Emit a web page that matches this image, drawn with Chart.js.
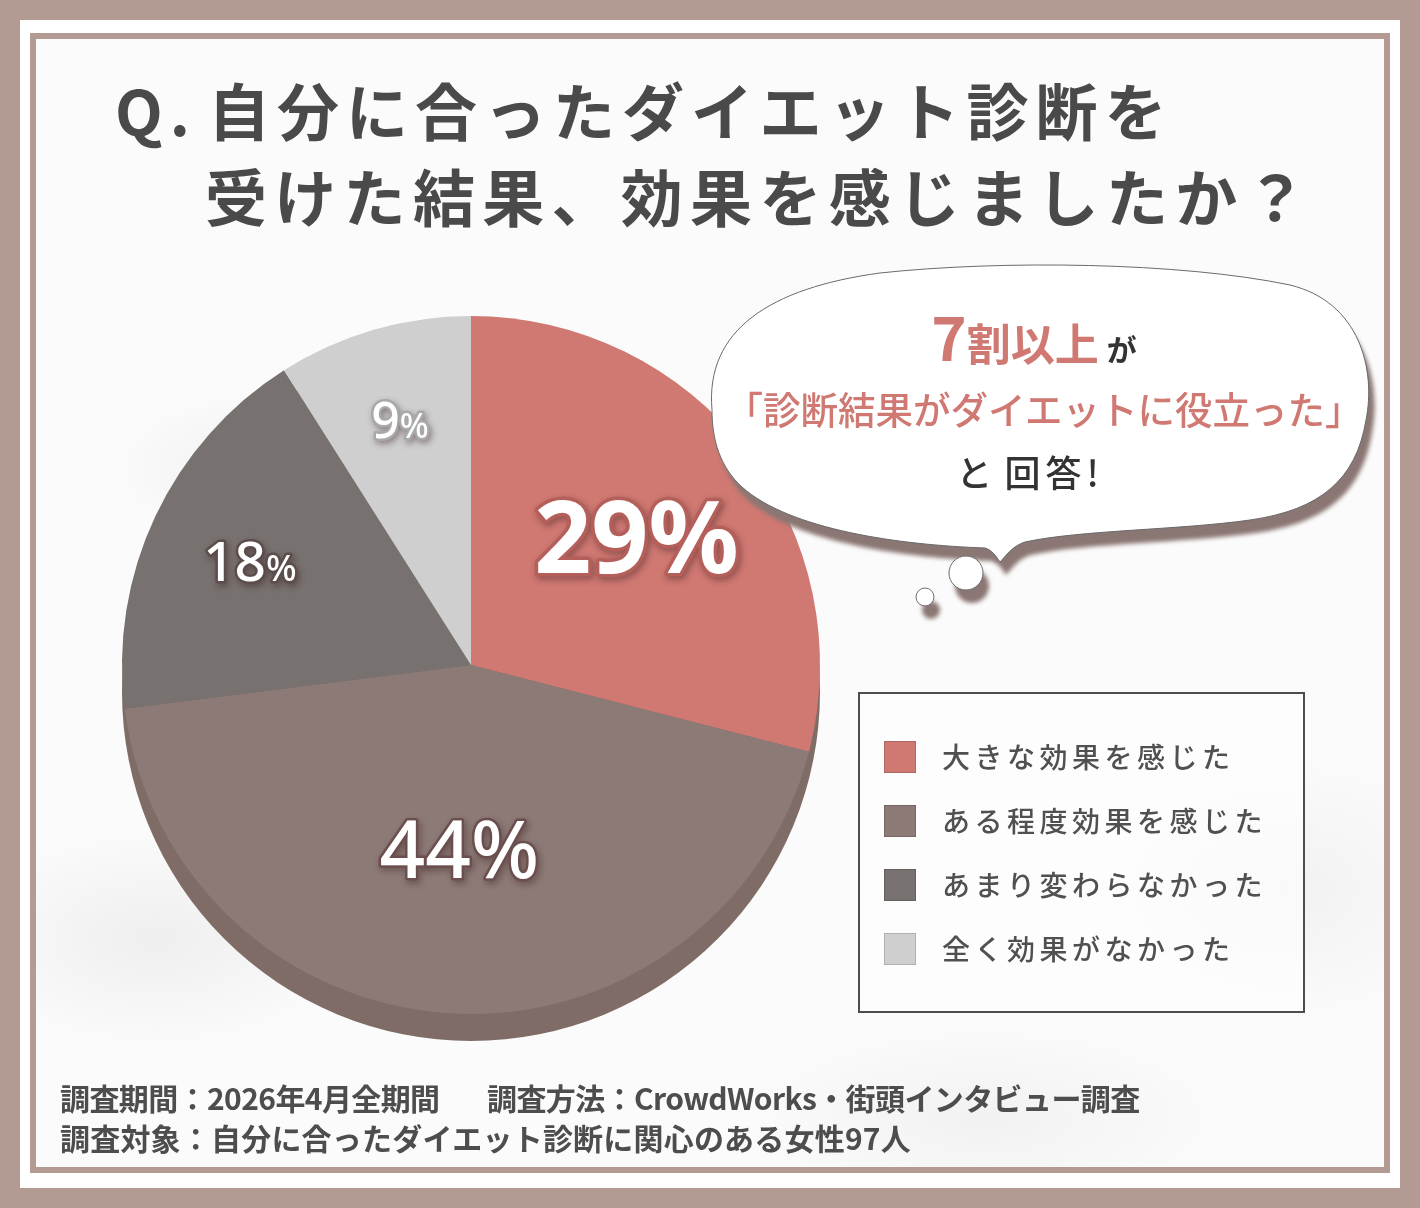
<!DOCTYPE html>
<html lang="ja">
<head>
<meta charset="utf-8">
<script src="https://cdn.jsdelivr.net/npm/chart.js@4.4.1/dist/chart.umd.min.js"></script>
<style>
    html, body { margin: 0; padding: 0; }
    body { width: 1420px; height: 1208px; background: #b39b94; position: relative; overflow: hidden;
           font-family: "Noto Sans CJK JP", "Noto Sans", sans-serif; }
    .paper { position: absolute; left: 20px; top: 20px; width: 1380px; height: 1168px; background: #fff; }
    .frame { position: absolute; left: 30px; top: 33px; width: 1360px; height: 1140px; box-sizing: border-box;
             border: 6px solid #b39b94;
             background:
                radial-gradient(ellipse 260px 120px at 250px 430px, rgba(0,0,0,0.05), rgba(0,0,0,0) 70%),
                radial-gradient(ellipse 300px 160px at 120px 900px, rgba(0,0,0,0.05), rgba(0,0,0,0) 70%),
                radial-gradient(ellipse 360px 140px at 950px 1080px, rgba(0,0,0,0.04), rgba(0,0,0,0) 70%),
                radial-gradient(ellipse 300px 200px at 1250px 850px, rgba(0,0,0,0.04), rgba(0,0,0,0) 70%),
                #fbfbfb; }
    #chart { position: absolute; left: 0; top: 0; }
    svg.bubble { position: absolute; left: 0; top: 0; }
    .title { position: absolute; color: #4a4a4a; font-weight: 700; font-size: 62px; letter-spacing: 7px;
             line-height: 62px; white-space: nowrap; }
    .bub { position: absolute; text-align: center; white-space: nowrap; font-weight: 700; }
    .red { color: #d07872; }
    .legend { position: absolute; left: 858px; top: 692px; width: 447px; height: 321px; box-sizing: border-box;
              border: 2px solid #4d4d4d; background: rgba(255,255,255,0.6); }
    .item { position: absolute; left: 884px; height: 32px; }
    .sw { position: absolute; left: 0; top: 0; width: 30px; height: 30px; border: 1px solid rgba(0,0,0,0.15); }
    .lab { position: absolute; left: 58px; top: -2px; font-size: 28px; line-height: 34px; letter-spacing: 4.5px;
           color: #505050; white-space: nowrap; font-weight: 500; }
    .note { position: absolute; font-size: 30px; font-weight: 700; color: #4d4d4d; line-height: 32px;
            white-space: nowrap; letter-spacing: 0.2px; }
</style>
</head>
<body>
<div class="paper"></div>
<div class="frame"></div>
<canvas id="chart" width="1420" height="1208"></canvas>

<svg class="bubble" width="1420" height="1208" viewBox="0 0 1420 1208">
    <defs>
        <filter id="soft" x="-10%" y="-10%" width="120%" height="130%">
            <feGaussianBlur stdDeviation="2"/>
        </filter>
    </defs>
    <g transform="translate(6,13)" fill="#8a7672" filter="url(#soft)">
        <path d="M 712 410 C 705 330 770 288 880 273 C 1000 260 1180 262 1290 285 C 1360 302 1376 370 1366 420 C 1356 480 1320 510 1250 520 C 1180 530 1080 530 1025 542 C 1012 546 1006 556 1000 562 C 996 556 992 550 985 548 C 900 545 790 530 742 487 C 720 467 712 440 712 410 Z"/>
        <circle cx="966" cy="573" r="17"/>
        <circle cx="925" cy="597" r="9"/>
    </g>
    <path d="M 712 410 C 705 330 770 288 880 273 C 1000 260 1180 262 1290 285 C 1360 302 1376 370 1366 420 C 1356 480 1320 510 1250 520 C 1180 530 1080 530 1025 542 C 1012 546 1006 556 1000 562 C 996 556 992 550 985 548 C 900 545 790 530 742 487 C 720 467 712 440 712 410 Z"
          fill="#ffffff" stroke="#6a6a6a" stroke-width="1"/>
    <circle cx="966" cy="573" r="17" fill="#fff" stroke="#6a6a6a" stroke-width="1"/>
    <circle cx="925" cy="597" r="9" fill="#fff" stroke="#6a6a6a" stroke-width="1"/>
</svg>

<div class="title" style="left:115px; top:78px;">Q.</div>
<div class="title" style="left:208px; top:78px;">自分に合ったダイエット診断を</div>
<div class="title" style="left:205px; top:164px; letter-spacing:7.3px;">受けた結果、効果を感じましたか？</div>

<div class="bub" style="left:834px; width:400px; top:300px; line-height:70px;">
    <span class="red" style="font-size:60px; font-weight:600;">7</span><span class="red" style="font-size:44px;">割以上</span><span style="font-size:30px; color:#333; margin-left:8px;">が</span>
</div>
<div class="bub red" style="left:724px; width:640px; top:385px; font-size:37.5px; line-height:46px; font-weight:500;">「診断結果がダイエットに役立った」</div>
<div class="bub" style="left:930px; width:200px; top:448px; font-size:36px; line-height:46px; color:#333; font-weight:500; letter-spacing:5px;">と&#8202;回答!</div>

<div class="legend"></div>
<div id="legendItems"></div>

<div class="note" style="left:60px; top:1081px; letter-spacing:-0.6px;">調査期間：2026年4月全期間</div>
<div class="note" style="left:487px; top:1081px; letter-spacing:-0.6px;">調査方法：CrowdWorks・街頭インタビュー調査</div>
<div class="note" style="left:60px; top:1121px;">調査対象：自分に合ったダイエット診断に関心のある女性97人</div>

<script>
// Données du graphique
const categories = ['大きな効果を感じた', 'ある程度効果を感じた', 'あまり変わらなかった', '全く効果がなかった'];
const shares = [29, 44, 18, 9];
const sliceColors = ['#d07872', '#8c7a76', '#77716f', '#cfcfcf'];

// Style des étiquettes de pourcentage
const labelRadius = [0.6, 0.53, 0.7, 0.73];
const numSize = [100, 80, 55, 50];
const pctSize = [100, 80, 36, 34];
const labelWeight = [700, 500, 500, 500];
const outlineColors = ['#b45f59', '#6b4e4e', '#5a4d4b', '#a9a9a9'];

// Légende HTML construite à partir des catégories
const legendItems = document.getElementById('legendItems');
categories.forEach((cat, i) => {
    const item = document.createElement('div');
    item.className = 'item';
    item.style.top = (741 + i * 64) + 'px';
    item.innerHTML = `<div class="sw" style="background:${sliceColors[i]}"></div><div class="lab">${cat}</div>`;
    legendItems.appendChild(item);
});

// Épaisseur sous le camembert
const extrudePlugin = {
    id: 'extrude',
    beforeDatasetsDraw(chart) {
        const arc = chart.getDatasetMeta(0).data[0];
        if (!arc) return;
        const { x, y, outerRadius } = arc.getProps(['x', 'y', 'outerRadius'], true);
        const ctx = chart.ctx;
        ctx.save();
        ctx.fillStyle = '#7f6c66';
        ctx.beginPath();
        ctx.arc(x, y + 27, outerRadius, 0, Math.PI * 2);
        ctx.fill();
        ctx.restore();
    }
};

// Pourcentages dessinés au milieu de chaque part
const percentPlugin = {
    id: 'percentLabels',
    afterDatasetsDraw(chart) {
        const ctx = chart.ctx;
        chart.getDatasetMeta(0).data.forEach((arc, i) => {
            const p = arc.getProps(['x', 'y', 'startAngle', 'endAngle', 'outerRadius'], true);
            const mid = (p.startAngle + p.endAngle) / 2;
            const r = p.outerRadius * labelRadius[i];
            const cx = p.x + Math.cos(mid) * r;
            const cy = p.y + Math.sin(mid) * r;

            const numText = String(shares[i]);
            const numFont = `${labelWeight[i]} ${numSize[i]}px "Noto Sans", sans-serif`;
            const pctFont = `${labelWeight[i]} ${pctSize[i]}px "Noto Sans", sans-serif`;
            ctx.save();
            ctx.font = numFont;
            const wNum = ctx.measureText(numText).width;
            ctx.font = pctFont;
            const wPct = ctx.measureText('%').width;
            const x0 = cx - (wNum + wPct) / 2;
            const base = cy + numSize[i] * 0.36;

            const parts = [
                { text: numText, font: numFont, x: x0 },
                { text: '%', font: pctFont, x: x0 + wNum }
            ];
            ctx.textBaseline = 'alphabetic';
            ctx.lineJoin = 'round';
            // contour + ombre
            ctx.shadowColor = 'rgba(60,30,30,0.45)';
            ctx.shadowBlur = 6;
            ctx.shadowOffsetX = 2;
            ctx.shadowOffsetY = 3;
            ctx.strokeStyle = outlineColors[i];
            ctx.lineWidth = i === 0 ? 7 : 5;
            parts.forEach(pt => { ctx.font = pt.font; ctx.strokeText(pt.text, pt.x, base); });
            ctx.shadowColor = 'transparent';
            ctx.fillStyle = '#ffffff';
            parts.forEach(pt => { ctx.font = pt.font; ctx.fillText(pt.text, pt.x, base); });
            ctx.restore();
        });
    }
};

const ctx = document.getElementById('chart').getContext('2d');
const pieChart = new Chart(ctx, {
    type: 'pie',
    data: {
        labels: categories,
        datasets: [{
            data: shares,
            backgroundColor: sliceColors,
            borderWidth: 0,
            hoverOffset: 0
        }]
    },
    options: {
        responsive: false,
        animation: false,
        devicePixelRatio: 1,
        layout: {
            padding: { left: 122, top: 316, right: 600, bottom: 194 }
        },
        plugins: {
            legend: { display: false },
            tooltip: { enabled: false }
        },
        events: []
    },
    plugins: [extrudePlugin, percentPlugin]
});
</script>
</body>
</html>
